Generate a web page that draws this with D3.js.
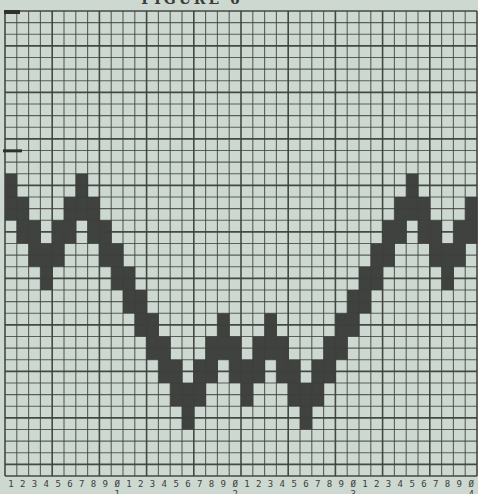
<!DOCTYPE html>
<meta charset="utf-8">
<script src="https://d3js.org/d3.v7.min.js"></script>
<style>
  body { margin: 0; background: #cdd9d0; }
</style>
<div id="my_dataviz"></div>
<script>

// 40 x 40 squared paper, one dark band of 4 squares per column
var columns = d3.range(1, 41);
var nRows = 40;
// top square of the dark band in each column (0 = top row)
var topRow = [14, 16, 18, 20, 18, 16, 14, 16, 18, 20,
              22, 24, 26, 28, 30, 32, 30, 28, 26, 28,
              30, 28, 26, 28, 30, 32, 30, 28, 26, 24,
              22, 20, 18, 16, 14, 16, 18, 20, 18, 16];
var bandHeight = 4;
var digitLabels = ["1", "2", "3", "4", "5", "6", "7", "8", "9", "\u00d8"];
var decadeLabels = ["1", "2", "3", "4"];

var W = 478, H = 494;
var svg = d3.select("#my_dataviz")
  .append("svg")
    .attr("width", W)
    .attr("height", H);

svg.append("rect")
  .attr("width", W).attr("height", H)
  .attr("fill", "#cdd9d0");

// scales
var x = d3.scaleBand()
  .domain(columns)
  .range([5, 477])
  .padding(0);
var y = d3.scaleLinear()
  .domain([0, nRows])
  .range([11, 476]);

// title, cut off by the top of the scan
svg.append("text")
  .attr("x", 192)
  .attr("y", 4)
  .attr("text-anchor", "middle")
  .attr("font-family", "DejaVu Serif, serif")
  .attr("font-weight", "bold")
  .attr("font-size", 14)
  .attr("letter-spacing", 3)
  .attr("fill", "#3a3c3a")
  .text("FIGURE 6");

// dark squares
svg.append("g")
  .selectAll("rect")
  .data(columns)
  .enter().append("rect")
    .attr("x", function(d) { return x(d); })
    .attr("y", function(d, i) { return y(topRow[i]); })
    .attr("width", x.bandwidth() + 0.5)
    .attr("height", function(d, i) { return y(topRow[i] + bandHeight) - y(topRow[i]); })
    .attr("fill", "#3f423f");

// grid lines
var grid = svg.append("g").attr("stroke", "#3d403d");
grid.selectAll("line.v")
  .data(d3.range(0, 41))
  .enter().append("line")
    .attr("class", "v")
    .attr("x1", function(d) { return d < 40 ? x(d + 1) : x(40) + x.bandwidth(); })
    .attr("x2", function(d) { return d < 40 ? x(d + 1) : x(40) + x.bandwidth(); })
    .attr("y1", y(0))
    .attr("y2", y(nRows))
    .attr("stroke-width", function(d) { return d % 4 == 0 ? 1.6 : 1.1; })
    .attr("stroke-opacity", function(d) { return d % 4 == 0 ? 0.95 : 0.8; });
grid.selectAll("line.h")
  .data(d3.range(0, nRows + 1))
  .enter().append("line")
    .attr("class", "h")
    .attr("x1", x(1))
    .attr("x2", x(40) + x.bandwidth())
    .attr("y1", function(d) { return y(d); })
    .attr("y2", function(d) { return y(d); })
    .attr("stroke-width", function(d) { return (d + 1) % 4 == 0 || d == 0 || d == nRows ? 1.6 : 1.1; })
    .attr("stroke-opacity", function(d) { return (d + 1) % 4 == 0 || d == 0 || d == nRows ? 0.95 : 0.8; });

// marks on the left border of the sheet
svg.append("rect").attr("x", 4).attr("y", y(0) - 1).attr("width", 16).attr("height", 4).attr("fill", "#2f312f");
svg.append("rect").attr("x", 3).attr("y", y(11.9)).attr("width", 19).attr("height", 3).attr("fill", "#2f312f");

// column numbers
var axis = svg.append("g")
  .attr("transform", "translate(0," + 478 + ")")
  .call(d3.axisBottom(x)
    .tickSize(0)
    .tickPadding(3)
    .tickFormat(function(d) { return digitLabels[(d - 1) % 10]; }));
axis.select(".domain").remove();
axis.selectAll("text")
  .attr("font-family", "DejaVu Sans Mono, monospace")
  .attr("font-size", 9)
  .attr("fill", "#3a3c3a");

svg.append("g")
  .selectAll("text")
  .data(decadeLabels)
  .enter().append("text")
    .attr("x", function(d, i) { return x((i + 1) * 10) + x.bandwidth() / 2; })
    .attr("y", 497)
    .attr("text-anchor", "middle")
    .attr("font-family", "DejaVu Sans Mono, monospace")
    .attr("font-size", 9)
    .attr("fill", "#3a3c3a")
    .text(function(d) { return d; });

</script>
